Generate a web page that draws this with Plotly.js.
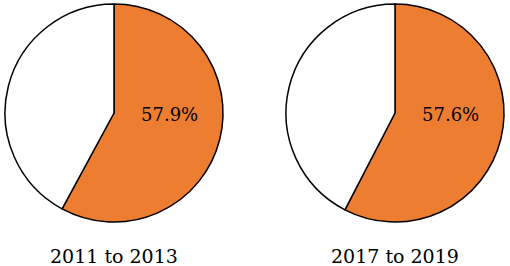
<!DOCTYPE html>
<html>
<head>
<meta charset="utf-8">
<script src="https://cdn.plot.ly/plotly-3.0.1.min.js"></script>
<style>
  html, body { margin: 0; padding: 0; background: #fff; }
  #chart { width: 510px; height: 266px; }
</style>
</head>
<body>
<div id="chart"></div>
<script>
const periods = ["2011 to 2013", "2017 to 2019"];
const categories = ["Share", "Rest"];
const shareValues = [57.9, 57.6];
const restValues = [42.1, 42.4];
const sliceColors = ["#ED7D31", "#FFFFFF"];

const W = 510, H = 266;
const centersX = [114, 395];
const centerY = 113;
const R = 109;
const FONT = "DejaVu Serif";

const traces = periods.map((p, i) => ({
  type: "pie",
  labels: categories,
  values: [shareValues[i], restValues[i]],
  sort: false,
  direction: "clockwise",
  rotation: 0,
  domain: {
    x: [(centersX[i] - R) / W, (centersX[i] + R) / W],
    y: [1 - (centerY + R) / H, 1 - (centerY - R) / H]
  },
  marker: { colors: sliceColors, line: { color: "#000", width: 1.5 } },
  textinfo: "none",
  hoverinfo: "none",
  showlegend: false
}));

const labelAnns = periods.map((p, i) => ({
  text: shareValues[i].toFixed(1) + "%",
  xref: "paper", yref: "paper",
  x: (centersX[i] + 55) / W,
  y: 1 - (centerY + 2) / H,
  xanchor: "center", yanchor: "middle",
  showarrow: false,
  font: { family: FONT, size: 18, color: "#000" }
}));

const periodAnns = periods.map((p, i) => ({
  text: p,
  xref: "paper", yref: "paper",
  x: centersX[i] / W,
  y: 0.0,
  yshift: -3,
  xanchor: "center", yanchor: "bottom",
  showarrow: false,
  font: { family: FONT, size: 19, color: "#000" }
}));

Plotly.newPlot("chart", traces, {
  width: W, height: H,
  margin: { l: 0, r: 0, t: 0, b: 0 },
  paper_bgcolor: "#fff",
  annotations: labelAnns.concat(periodAnns),
  showlegend: false
}, { staticPlot: true });
</script>
</body>
</html>
